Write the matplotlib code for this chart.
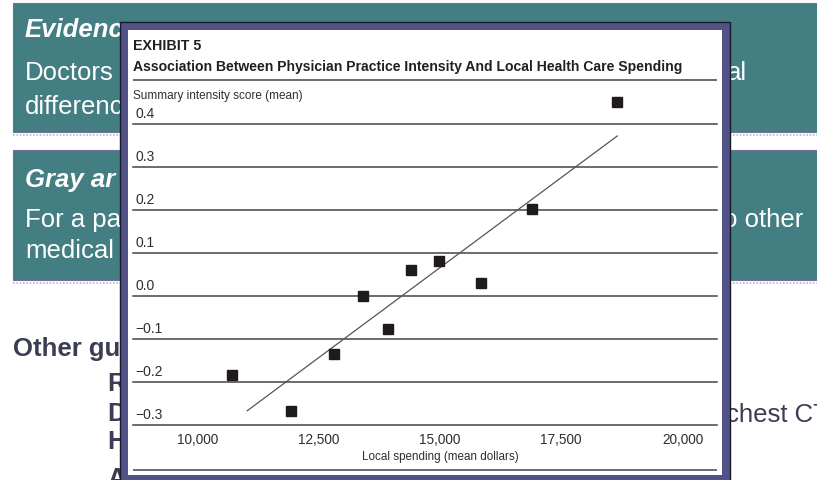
import matplotlib
matplotlib.use("Agg")
import matplotlib.pyplot as plt
from matplotlib import font_manager
from matplotlib.patches import Rectangle

# ---------------- chart data ----------------
spending = [10720, 11930, 12820, 13420, 13930, 14400, 14980, 15850, 16900, 18650]
intensity = [-0.186, -0.268, -0.135, -0.002, -0.079, 0.059, 0.081, 0.030, 0.201, 0.449]
fit_spending = [11030, 18655]
fit_intensity = [-0.268, 0.371]
x_ticks = [10000, 12500, 15000, 17500, 20000]
x_tick_labels = ["10,000", "12,500", "15,000", "17,500", "20,000"]
y_ticks = [0.4, 0.3, 0.2, 0.1, 0.0, -0.1, -0.2, -0.3]
y_tick_labels = ["0.4", "0.3", "0.2", "0.1", "0.0", "\u22120.1", "\u22120.2", "\u22120.3"]
exhibit = "EXHIBIT 5"
title = "Association Between Physician Practice Intensity And Local Health Care Spending"
y_label = "Summary intensity score (mean)"
x_label = "Local spending (mean dollars)"

# ---------------- fonts ----------------
names = {f.name for f in font_manager.fontManager.ttflist}
SLIDE = "Liberation Sans"
NARROW = "Liberation Sans Narrow" if "Liberation Sans Narrow" in names else "Liberation Sans"
narrow_scale = 1.18 if NARROW == "Liberation Sans Narrow" else 1.0

W, H = 817, 480
fig = plt.figure(figsize=(W / 100, H / 100), dpi=100)
fig.patch.set_facecolor("white")

# background layer in pixel units (y grows downward)
bg = fig.add_axes([0, 0, 1, 1])
bg.set_xlim(0, W)
bg.set_ylim(H, 0)
bg.axis("off")

TEAL = "#437e83"
NAVY = "#505288"
DARK = "#3b3e52"

# teal slide panels with their faint shadow rule
for top, bottom in [(3, 132), (150, 280)]:
    bg.add_patch(Rectangle((13, top), W - 13 + 5, bottom - top, facecolor=TEAL,
                           edgecolor="#6d7398", lw=0.8, zorder=1))
    bg.plot([13, W], [bottom + 2.5, bottom + 2.5], color="#b9b9c4", lw=1.2,
            ls=(0, (1, 1)), zorder=1)

slide_big = dict(fontsize=18.5, family=SLIDE, color="white", va="baseline", zorder=2)
bg.text(25, 37, "Evidenc", fontweight="bold", style="italic", **slide_big)
bg.text(25, 80, "Doctors", **slide_big)
bg.text(747, 80, "al", ha="right", **slide_big)
bg.text(25, 114, "differenc", **slide_big)
bg.text(25, 187, "Gray ar", fontweight="bold", style="italic", **slide_big)
bg.text(25, 227, "For a pa", **slide_big)
bg.text(803, 227, "to other", ha="right", **slide_big)
bg.text(25, 258, "medical", **slide_big)

dark_big = dict(fontsize=18.5, family=SLIDE, color=DARK, va="baseline", zorder=2)
bg.text(13, 356, "Other gu", fontweight="bold", **dark_big)
bg.text(107, 391, "R", fontweight="bold", **dark_big)
bg.text(107, 421, "D", fontweight="bold", **dark_big)
bg.text(107, 449, "H", fontweight="bold", **dark_big)
bg.text(107, 486, "A", fontweight="bold", **dark_big)
bg.text(726, 422, "chest CT", **dark_big)

# exhibit frame
bg.add_patch(Rectangle((120, 22), 610, 470, facecolor=NAVY, edgecolor="#1a1a2a",
                       lw=1.0, zorder=5))
bg.add_patch(Rectangle((128, 30), 594, 445, facecolor="white", edgecolor="none",
                       zorder=6))

ink = "#231f20"
txt = "#2e2e2e"
bg.text(133, 50, exhibit, family=NARROW, fontweight="bold", fontsize=10.3 * narrow_scale,
        color=ink, va="baseline", zorder=7)
bg.text(133, 71, title, family=NARROW, fontweight="bold", fontsize=10.12 * narrow_scale,
        color=ink, va="baseline", zorder=7)
bg.plot([133, 717], [80, 80], color="#6b6b6b", lw=1.4, zorder=7, solid_capstyle="butt")
bg.text(133, 98.5, y_label, family=NARROW, fontsize=8.5 * narrow_scale, color=txt,
        va="baseline", zorder=7)
bg.plot([133, 717], [470, 470], color="#6b6b6b", lw=1.4, zorder=7, solid_capstyle="butt")

# ---------------- scatter panel ----------------
ax = fig.add_axes([133 / W, 1 - 424.5 / H, 584 / W, 301 / H])
ax.set_facecolor("none")
ax.set_xlim(8676, 20710)
ax.set_ylim(-0.3, 0.4)
for s in ax.spines.values():
    s.set_visible(False)
ax.set_xticks([])
ax.set_yticks([])

for v, lab in zip(y_ticks, y_tick_labels):
    ax.axhline(v, color="#444444", lw=1.1, zorder=1, clip_on=False)
    ax.annotate(lab, xy=(0, v), xycoords=("axes fraction", "data"),
                xytext=(1.5, 5.5 * 0.72), textcoords="offset points",
                family=NARROW, fontsize=10 * narrow_scale, color=txt,
                ha="left", va="baseline", annotation_clip=False)

for t, lab in zip(x_ticks, x_tick_labels):
    ax.annotate(lab, xy=(t, 0), xycoords=("data", "axes fraction"),
                xytext=(0, -19.5 * 0.72), textcoords="offset points",
                family=NARROW, fontsize=9.8 * narrow_scale, color=txt,
                ha="center", va="baseline", annotation_clip=False)
ax.annotate(x_label, xy=(0.527, 0), xycoords="axes fraction",
            xytext=(0, -35.5 * 0.72), textcoords="offset points",
            family=NARROW, fontsize=8.4 * narrow_scale, color=txt,
            ha="center", va="baseline", annotation_clip=False)

ax.plot(fit_spending, fit_intensity, color="#555555", lw=0.9, zorder=2, clip_on=False)
ax.plot(spending, intensity, ls="none", marker="s", markersize=7.2,
        color="#1f1a1c", zorder=3, clip_on=False)

fig.savefig("out.png", dpi=100)
